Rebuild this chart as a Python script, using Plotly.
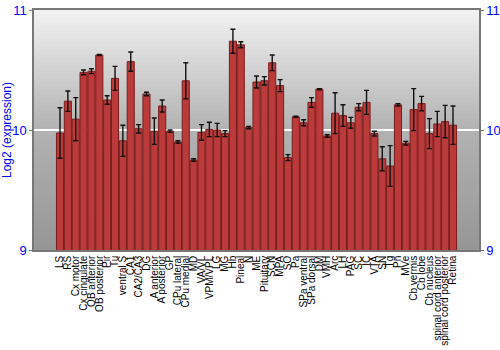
import plotly.graph_objects as go

categories = ["LS", "RS", "Cx motor", "Cx cingulate", "OB anterior", "OB posterior", "Pir", "Tu",
              "ventral S", "CA1", "CA2/CA3", "DG", "A anterior", "A posterior", "GP", "CPu lateral",
              "CPu medial", "MD", "VA/VL", "VPM/VPL", "LG", "MG", "Hb", "Pineal", "N", "ME",
              "Pituitary", "SCN", "MPA", "SO", "Pa", "SPa ventral", "SPa dorsal", "DM", "VMH",
              "Arc", "LH", "PAG", "SC", "IC", "VTA", "SN", "Tg", "Pn", "MVe", "Cb vermis",
              "Cb lobe", "Cb nucleus", "spinal cord anterior", "spinal cord posterior", "Retina"]

values = [9.975, 10.24, 10.09, 10.48, 10.49, 10.625, 10.25, 10.43,
          9.91, 10.57, 10.01, 10.30, 9.99, 10.20, 9.99, 9.90,
          10.41, 9.75, 9.98, 10.005, 10.0, 9.97, 10.74, 10.71, 10.02, 10.40,
          10.41, 10.56, 10.37, 9.77, 10.11, 10.06, 10.23, 10.34, 9.95,
          10.14, 10.12, 10.06, 10.19, 10.23, 9.97, 9.76, 9.70, 10.21, 9.89, 10.17,
          10.22, 9.97, 10.05, 10.07, 10.04]

errors = [0.21, 0.085, 0.18, 0.02, 0.02, 0.005, 0.035, 0.10,
          0.13, 0.08, 0.035, 0.015, 0.11, 0.05, 0.01, 0.01,
          0.15, 0.01, 0.065, 0.06, 0.055, 0.025, 0.10, 0.025, 0.01, 0.05,
          0.035, 0.065, 0.05, 0.025, 0.005, 0.025, 0.04, 0.005, 0.01,
          0.17, 0.09, 0.045, 0.03, 0.10, 0.02, 0.10, 0.17, 0.01, 0.015, 0.175,
          0.06, 0.125, 0.105, 0.135, 0.16]

y_ticks = [9, 10, 11]

fig = go.Figure()

fig.add_trace(go.Bar(
    x=categories, y=values,
    marker=dict(color="#bb3a3a", line=dict(color="#7a1c1c", width=1)),
    error_y=dict(type="data", array=errors, visible=True, color="#111111", thickness=1.4, width=2.5),
    yaxis="y",
))
# invisible trace to anchor the right axis
fig.add_trace(go.Scatter(x=categories, y=values, yaxis="y2", mode="markers",
                         marker=dict(opacity=0), hoverinfo="skip", showlegend=False))

# vertical gradient background
n = 60
shapes = []
def gray_at(t):
    if t < 0.5:
        v = 242 - (242 - 178) * (t / 0.5)
    else:
        v = 178 - (178 - 150) * ((t - 0.5) / 0.5)
    return int(round(v))
for i in range(n):
    t0 = i / n
    g = gray_at((i + 0.5) / n)
    shapes.append(dict(type="rect", xref="paper", yref="paper",
                       x0=0, x1=1, y0=1 - t0 - 1 / n, y1=1 - t0,
                       fillcolor=f"rgb({g},{g},{g})", line=dict(width=0), layer="below"))

fig.update_layout(
    width=500, height=350,
    margin=dict(l=34, r=21, t=10, b=100),
    paper_bgcolor="white", plot_bgcolor="rgba(0,0,0,0)",
    showlegend=False, bargap=0.1,
    shapes=shapes,
    font=dict(family="Liberation Sans, Arial, sans-serif"),
    xaxis=dict(tickangle=-90, tickfont=dict(size=10, color="black"),
               tickmode="array", tickvals=categories, ticktext=categories,
               automargin=False,
               showline=True, linecolor="#777777", linewidth=1.5, mirror=True,
               ticks="", showgrid=False, side="bottom"),
    yaxis=dict(range=[9, 11], tickvals=y_ticks, ticktext=[str(v) for v in y_ticks],
               tickfont=dict(size=13, color="blue"), automargin=False,
               title=dict(text="Log2 (expression)", font=dict(size=12, color="blue"), standoff=3),
               showline=True, linecolor="#777777", linewidth=1.5,
               ticks="outside", ticklen=3, tickcolor="#777777",
               showgrid=True, gridcolor="white", gridwidth=1.5, zeroline=False),
    yaxis2=dict(range=[9, 11], tickvals=y_ticks, ticktext=[str(v) for v in y_ticks],
                overlaying="y", side="right", automargin=False,
                tickfont=dict(size=13, color="blue"),
                showline=True, linecolor="#777777", linewidth=1.5,
                ticks="outside", ticklen=3, tickcolor="#777777",
                showgrid=False, zeroline=False),
)

fig.write_html("out.html")
